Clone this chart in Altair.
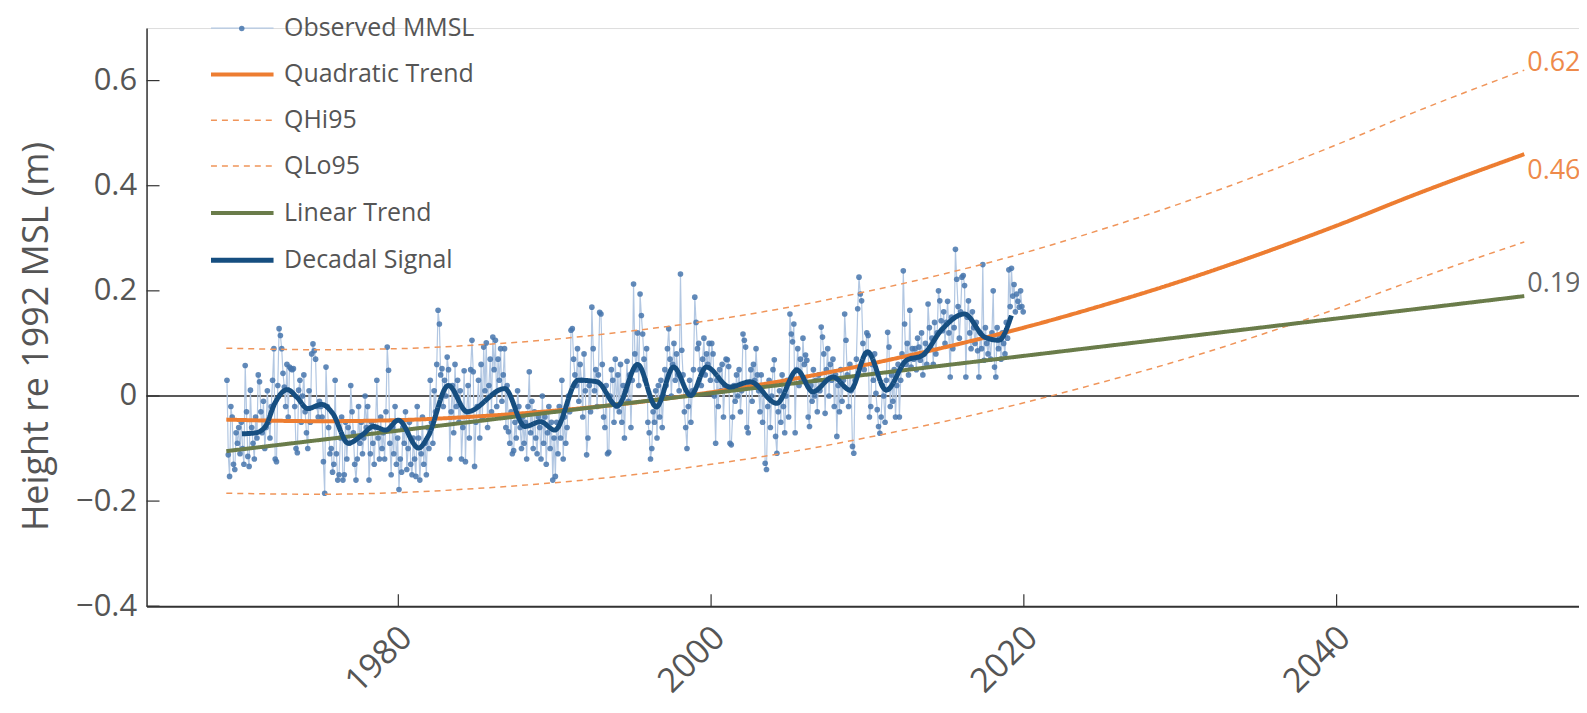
import altair as alt
import pandas as pd

FONT = "Open Sans"
TEXT = "#555555"

# ---------------- data ----------------
obs_start_year = 1969
observed_mmsl = [
    [0.03, -0.112, -0.153, -0.02, -0.04, -0.13, -0.14, -0.07, -0.09, -0.06, -0.11, -0.05],
    [-0.10, -0.13, 0.058, -0.03, -0.115, -0.134, 0.011, -0.06, -0.09, -0.12, -0.04, -0.08],
    [0.04, 0.027, -0.03, -0.07, -0.01, -0.10, -0.06, 0.01, -0.05, -0.08, -0.02, 0.03],
    [0.09, -0.12, -0.125, 0.02, 0.128, 0.115, 0.09, 0.043, 0.017, -0.02, 0.06, -0.04],
    [0.055, 0.052, 0.05, 0.052, -0.02, -0.10, -0.108, 0.011, 0.03, -0.05, 0.0, 0.04],
    [-0.03, -0.07, -0.10, 0.01, -0.05, 0.08, 0.099, 0.086, 0.07, -0.02, -0.04, -0.01],
    [-0.02, -0.04, -0.125, -0.185, 0.055, -0.02, -0.06, -0.11, -0.10, -0.145, -0.13, 0.03],
    [-0.11, -0.16, -0.15, -0.08, -0.04, -0.16, -0.15, -0.05, -0.12, -0.06, -0.09, 0.02],
    [-0.03, -0.07, -0.13, -0.16, -0.12, -0.02, -0.09, -0.05, -0.11, -0.08, 0.0, -0.06],
    [-0.02, -0.16, -0.11, -0.05, -0.09, -0.13, -0.06, 0.03, -0.08, -0.12, -0.04, -0.10],
    [-0.07, -0.12, -0.03, 0.093, 0.049, -0.09, -0.15, -0.06, -0.11, -0.02, -0.13, -0.08],
    [-0.178, -0.12, -0.145, -0.06, -0.09, -0.03, -0.14, -0.10, -0.05, -0.13, -0.15, -0.08],
    [-0.12, -0.153, -0.02, -0.08, -0.16, -0.11, -0.04, -0.13, -0.09, -0.15, -0.06, -0.10],
    [0.03, -0.05, -0.09, 0.01, -0.03, 0.06, 0.163, 0.137, 0.04, 0.052, -0.02, 0.03],
    [0.0, 0.074, 0.05, -0.12, -0.03, 0.02, -0.07, 0.06, -0.02, 0.03, -0.05, 0.01],
    [-0.12, -0.06, 0.048, -0.125, -0.03, 0.02, -0.08, 0.05, 0.106, 0.046, -0.134, -0.05],
    [-0.02, 0.03, -0.08, 0.06, -0.04, 0.093, 0.01, 0.101, -0.06, 0.02, 0.07, -0.03],
    [0.112, 0.05, 0.106, -0.02, 0.07, 0.03, 0.09, -0.01, 0.04, 0.09, -0.06, 0.02],
    [-0.068, -0.09, -0.03, -0.11, -0.104, -0.05, -0.08, 0.01, -0.02, -0.06, -0.10, -0.04],
    [-0.09, -0.05, -0.12, -0.02, 0.046, -0.07, -0.01, -0.10, -0.03, -0.08, -0.11, -0.04],
    [-0.06, -0.12, 0.0, -0.09, -0.04, -0.13, -0.07, -0.02, -0.10, -0.05, -0.16, -0.08],
    [-0.153, -0.05, -0.11, -0.02, -0.08, 0.03, -0.12, -0.04, -0.09, -0.06, 0.0, -0.03],
    [0.125, 0.128, 0.07, 0.04, 0.02, 0.09, -0.01, 0.06, 0.03, -0.04, 0.08, 0.01],
    [-0.112, -0.08, 0.02, -0.03, 0.169, 0.09, 0.01, 0.05, -0.02, 0.04, 0.159, 0.156],
    [0.06, -0.04, -0.06, 0.02, -0.11, -0.107, 0.0, 0.05, 0.03, -0.05, 0.07, -0.02],
    [0.04, -0.03, 0.06, -0.05, 0.02, -0.08, 0.01, 0.066, -0.01, 0.04, -0.06, 0.03],
    [0.213, 0.08, 0.05, 0.12, 0.02, 0.194, 0.153, 0.118, 0.07, 0.03, 0.09, -0.05],
    [-0.07, -0.12, -0.10, -0.03, -0.05, 0.01, -0.08, 0.02, -0.04, 0.03, -0.06, 0.0],
    [0.05, 0.02, 0.09, 0.128, 0.07, 0.0, 0.06, 0.10, 0.03, 0.08, 0.04, 0.01],
    [0.232, 0.087, 0.04, -0.03, -0.06, -0.10, -0.02, 0.03, -0.05, 0.01, 0.05, 0.188],
    [0.14, 0.09, 0.10, 0.05, 0.02, 0.07, 0.11, 0.04, 0.08, 0.06, 0.10, 0.03],
    [0.10, 0.08, 0.0, -0.09, 0.03, -0.02, 0.05, 0.01, 0.06, -0.04, 0.02, 0.07],
    [0.069, 0.056, -0.09, -0.093, -0.04, 0.02, -0.01, 0.04, 0.0, 0.05, -0.03, 0.01],
    [0.118, 0.106, 0.093, -0.06, -0.07, 0.02, 0.05, -0.01, 0.06, 0.03, 0.09, 0.04],
    [0.01, -0.03, 0.04, -0.05, 0.02, -0.128, -0.14, -0.02, 0.03, -0.06, 0.0, 0.05],
    [0.069, -0.077, -0.109, -0.03, 0.01, -0.05, 0.04, -0.02, -0.07, 0.0, 0.03, -0.04],
    [0.156, 0.118, 0.103, 0.137, -0.07, 0.05, 0.09, 0.02, 0.07, 0.03, 0.11, 0.06],
    [0.078, 0.068, -0.04, -0.058, 0.02, -0.01, 0.05, 0.0, 0.03, -0.03, 0.04, 0.01],
    [0.131, 0.112, 0.08, -0.033, 0.05, 0.09, 0.0, 0.06, 0.03, 0.07, -0.02, 0.04],
    [-0.077, 0.02, -0.03, 0.05, -0.01, 0.03, 0.156, 0.106, 0.04, -0.02, 0.06, 0.01],
    [-0.096, -0.109, 0.03, 0.07, 0.166, 0.226, 0.194, 0.181, 0.10, 0.05, 0.08, 0.12],
    [0.115, -0.04, -0.02, 0.06, 0.03, 0.08, 0.005, -0.026, -0.058, -0.071, -0.04, 0.02],
    [0.0, -0.05, 0.03, 0.121, 0.093, -0.02, 0.04, -0.01, 0.05, -0.04, 0.02, 0.06],
    [-0.04, 0.03, 0.08, 0.238, 0.137, 0.06, 0.10, 0.04, 0.163, 0.055, 0.09, 0.07],
    [0.09, 0.05, 0.11, 0.093, 0.068, 0.12, 0.04, 0.08, 0.10, 0.06, 0.175, 0.13],
    [0.09, 0.11, 0.06, 0.14, 0.08, 0.12, 0.20, 0.181, 0.143, 0.124, 0.16, 0.10],
    [0.14, 0.18, 0.12, 0.036, 0.15, 0.09, 0.13, 0.279, 0.222, 0.17, 0.11, 0.16],
    [0.226, 0.229, 0.21, 0.036, 0.15, 0.181, 0.12, 0.09, 0.16, 0.13, 0.10, 0.14],
    [0.086, 0.036, 0.12, 0.09, 0.25, 0.068, 0.13, 0.10, 0.08, 0.11, 0.07, 0.12],
    [0.20, 0.055, 0.036, 0.13, 0.09, 0.11, 0.07, 0.12, 0.10, 0.08, 0.14, 0.11],
    [0.24, 0.17, 0.243, 0.19, 0.212, 0.16, 0.194, 0.18, 0.169, 0.20, 0.17, 0.16],
]

decadal_years = [1970.0, 1970.9, 1971.5, 1972.1, 1972.9, 1973.5, 1974.2, 1975.1, 1975.8,
                 1976.8, 1977.7, 1978.4, 1979.2, 1980.0, 1981.3, 1981.9, 1983.2, 1984.4,
                 1986.8, 1988.1, 1989.1, 1990.0, 1991.5, 1992.7, 1994.0, 1995.3, 1996.5,
                 1997.6, 1998.7, 1999.7, 2001.2, 2002.5, 2004.2, 2005.5, 2006.5, 2007.8,
                 2008.9, 2010.0, 2011.2, 2012.5, 2013.5, 2014.8, 2016.2, 2017.5, 2018.4,
                 2019.2]
decadal_values = [-0.072, -0.070, -0.058, -0.014, 0.012, -0.002, -0.024, -0.016, -0.033,
                  -0.090, -0.074, -0.058, -0.065, -0.046, -0.099, -0.077, 0.020, -0.030,
                  0.014, -0.058, -0.049, -0.065, 0.030, 0.027, -0.019, 0.060, -0.021,
                  0.055, 0.001, 0.055, 0.017, 0.027, -0.014, 0.049, 0.008, 0.036,
                  0.011, 0.084, 0.011, 0.068, 0.077, 0.128, 0.156, 0.112, 0.106,
                  0.153]

trend_years = [1969, 1975, 1980, 1985, 1990, 1995, 2000, 2005, 2010, 2015, 2020,
               2025, 2030, 2035, 2040, 2045, 2052]
quadratic_values = [-0.045, -0.048, -0.046, -0.039, -0.028, -0.013, 0.007, 0.031, 0.060,
                    0.093, 0.130, 0.172, 0.218, 0.269, 0.324, 0.383, 0.460]
qhi95_values = [0.091, 0.088, 0.090, 0.097, 0.108, 0.124, 0.144, 0.169, 0.199,
                0.233, 0.272, 0.317, 0.366, 0.420, 0.478, 0.540, 0.620]
qlo95_values = [-0.185, -0.187, -0.184, -0.176, -0.165, -0.150, -0.130, -0.107, -0.079,
                -0.048, -0.013, 0.026, 0.068, 0.115, 0.166, 0.221, 0.293]
linear_years = [1969, 2052]
linear_values = [-0.105, 0.190]

end_label_years = [2052, 2052, 2052]
end_label_values = [0.62, 0.46, 0.19]
end_label_texts = ["0.62", "0.46", "0.19"]

x_ticks = [1980, 2000, 2020, 2040]
y_ticks = [-0.4, -0.2, 0.0, 0.2, 0.4, 0.6]

series_names = ["Observed MMSL", "Quadratic Trend", "QHi95", "QLo95",
                "Linear Trend", "Decadal Signal"]

# ---------------- styles ----------------
series_colors = ["#b2c7e2", "#ed7d31", "#f0955a", "#f0955a", "#6a7c4a", "#164e80"]
series_dash = [[1, 0], [1, 0], [6, 5], [6, 5], [1, 0], [1, 0]]
series_width = [1.2, 4, 1.5, 1.5, 4, 5]
label_colors = ["#ee8a4a", "#ee8a4a", "#666666"]
label_dy = [-7, 17, -12]

# ---------------- tables ----------------
obs_rows = []
for i, yr_vals in enumerate(observed_mmsl):
    for m, v in enumerate(yr_vals):
        obs_rows.append({"year": obs_start_year + i + (m + 0.5) / 12.0, "value": v,
                         "series": "Observed MMSL", "marker": "Observed MMSL"})
obs_df = pd.DataFrame(obs_rows)

quad_df = pd.DataFrame({"year": trend_years, "value": quadratic_values, "series": "Quadratic Trend"})
hi_df = pd.DataFrame({"year": trend_years, "value": qhi95_values, "series": "QHi95"})
lo_df = pd.DataFrame({"year": trend_years, "value": qlo95_values, "series": "QLo95"})
lin_df = pd.DataFrame({"year": linear_years, "value": linear_values, "series": "Linear Trend"})
dec_df = pd.DataFrame({"year": decadal_years, "value": decadal_values, "series": "Decadal Signal"})

W, H = 1437, 580
xscale = alt.Scale(domain=[1963.9, 2055.5], nice=False, zero=False)
yscale = alt.Scale(domain=[-0.4, 0.7], nice=False, zero=False)

x_axis = alt.Axis(values=x_ticks, format="d", labelAngle=-45, labelAlign="right",
                  labelBaseline="top", labelPadding=14, labelOffset=-4,
                  labelFont=FONT, labelFontSize=34, labelColor=TEXT,
                  ticks=False, grid=False, domainColor="#333333", domainWidth=2,
                  title=None)
y_axis = alt.Axis(values=y_ticks, format=".1~f", labelPadding=10,
                  labelFont=FONT, labelFontSize=31, labelColor=TEXT,
                  ticks=False, grid=False, domainColor="#333333", domainWidth=1.5,
                  title="Height re 1992 MSL (m)", titleFont=FONT, titleFontSize=36,
                  titleFontWeight="normal", titleColor=TEXT, titleAngle=-90,
                  titleX=-110, titleY=309, titleAlign="center", titleBaseline="middle")

X = alt.X("year:Q", scale=xscale, axis=x_axis)
Y = alt.Y("value:Q", scale=yscale, axis=y_axis)

line_legend = alt.Legend(orient="none", legendX=62, legendY=-32, title=None,
                         labelFont=FONT, labelFontSize=25, labelColor=TEXT, labelLimit=500,
                         symbolType="stroke", symbolSize=3940, labelOffset=8,
                         rowPadding=0, padding=0)
color_enc = alt.Color("series:N", scale=alt.Scale(domain=series_names, range=series_colors),
                      legend=line_legend)
dash_enc = alt.StrokeDash("series:N",
                          scale=alt.Scale(type="ordinal", domain=series_names, range=series_dash),
                          legend=line_legend)
width_enc = alt.StrokeWidth("series:N",
                            scale=alt.Scale(type="ordinal", domain=series_names, range=series_width),
                            legend=line_legend)


def series_line(df, interp="linear"):
    return alt.Chart(df).mark_line(interpolate=interp).encode(
        x=X, y=Y, color=color_enc, strokeDash=dash_enc, strokeWidth=width_enc)


zero_line = alt.Chart(pd.DataFrame({"value": [0.0]})).mark_rule(
    color="#222222", strokeWidth=1.5).encode(y=Y)

xtick_marks = alt.Chart(pd.DataFrame({"year": x_ticks})).mark_rule(
    color="#333333", strokeWidth=1.2).encode(x=X, y=alt.value(H), y2=alt.value(H - 12))
ytick_marks = alt.Chart(pd.DataFrame({"value": y_ticks})).mark_rule(
    color="#333333", strokeWidth=1.2).encode(y=Y, x=alt.value(0), x2=alt.value(13))

obs_line = series_line(obs_df)
obs_points = alt.Chart(obs_df).mark_circle(size=32, opacity=0.85).encode(
    x=X, y=Y,
    fill=alt.Fill("marker:N", scale=alt.Scale(domain=["Observed MMSL"], range=["#4676ad"]),
                  legend=alt.Legend(orient="none", legendX=83, legendY=-12, title=None,
                                    labelFont=FONT, labelFontSize=25, labelExpr="''",
                                    symbolType="circle", symbolSize=30, symbolStrokeWidth=0,
                                    padding=0)))

layers = [zero_line, obs_line, obs_points,
          series_line(hi_df, "monotone"), series_line(lo_df, "monotone"),
          series_line(quad_df, "monotone"), series_line(lin_df),
          series_line(dec_df, "monotone"), xtick_marks, ytick_marks]

for yr, val, txt, col, dy in zip(end_label_years, end_label_values, end_label_texts,
                                 label_colors, label_dy):
    layers.append(
        alt.Chart(pd.DataFrame({"year": [yr], "value": [val], "label": [txt]})).mark_text(
            align="left", baseline="middle", dx=3, dy=dy, font=FONT, fontSize=27, color=col
        ).encode(x=X, y=Y, text="label:N"))

chart = alt.layer(*layers).properties(
    width=W, height=H,
    autosize=alt.AutoSizeParams(type="none"),
    padding={"left": 139, "top": 19, "right": 0, "bottom": 98},
).configure_view(stroke=None).configure(font=FONT)

chart.save("out.html", embed_options={"renderer": "svg", "actions": False})
